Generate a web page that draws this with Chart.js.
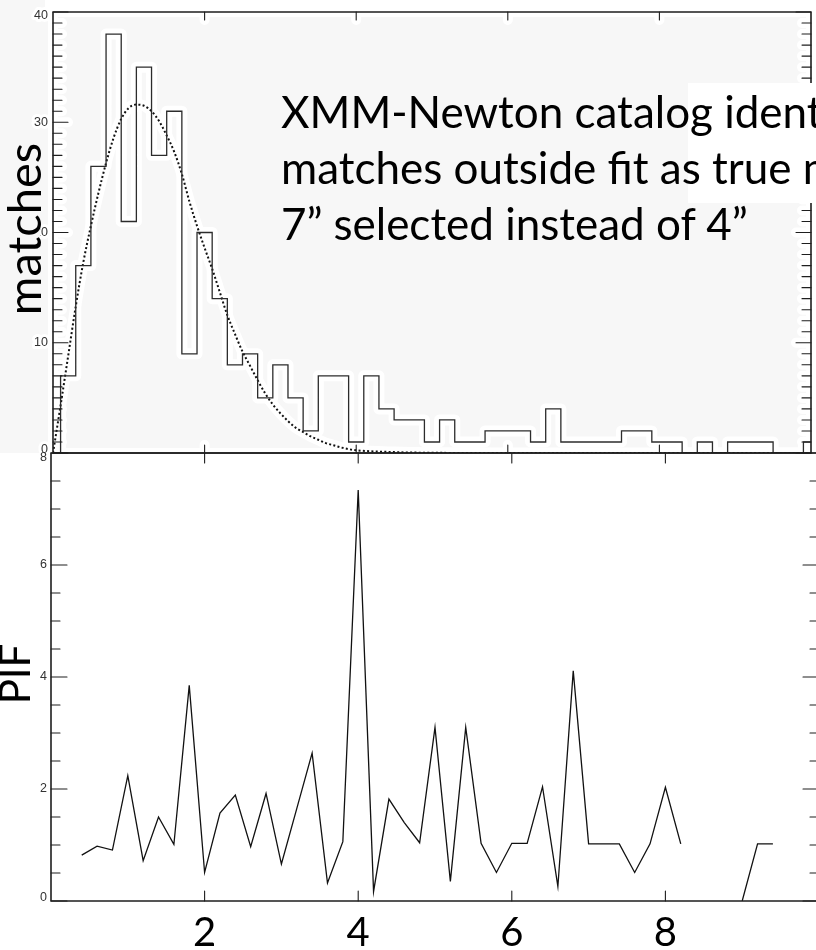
<!DOCTYPE html>
<html>
<head>
<meta charset="utf-8">
<script src="https://cdn.jsdelivr.net/npm/chart.js@4.4.1/dist/chart.umd.min.js"></script>
<style>
  html, body { margin: 0; padding: 0; background: #fff; overflow: hidden; }
  #page { position: relative; width: 816px; height: 950px; overflow: hidden; }
  #histChart { position: absolute; left: 0; top: 0; }
  #pifChart { position: absolute; left: 0; top: 440px; }
  #noteBox { position: absolute; left: 688px; top: 83px; width: 128px; height: 120px; background: #fff; }
  #note {
    position: absolute; left: 281px; top: 83px;
    font: 44px Lato, "Open Sans", sans-serif; line-height: 56px;
    color: #000; white-space: nowrap;
  }
</style>
</head>
<body>
<div id="page">
  <canvas id="histChart" width="816" height="470"></canvas>
  <canvas id="pifChart" width="830" height="510"></canvas>
  <div id="noteBox"></div>
  <div id="note">XMM-Newton catalog identifies<br>matches outside fit as true matches;<br>7” selected instead of 4”</div>
</div>
<script>
// separation histogram, one count per 0.2 bin starting at 0.0
const histCounts = [0, 7, 17, 26, 38, 21, 35, 27, 31, 9, 20, 14, 8, 9, 5, 8, 5, 2, 7, 7,
  1, 7, 4, 3, 3, 1, 3, 1, 1, 2, 2, 2, 1, 4, 1, 1, 1, 1, 2, 2,
  1, 1, 0, 1, 0, 1, 1, 1, 0, 0, 1];
const binCenters = histCounts.map((_, i) => +(i * 0.2).toFixed(1));

// fitted distribution (dotted)
const fitX = [0, 0.1, 0.2, 0.3, 0.4, 0.5, 0.6, 0.7, 0.8, 0.9, 1.0, 1.1, 1.2, 1.3, 1.4, 1.5, 1.6, 1.7, 1.8, 1.9,
  2.0, 2.1, 2.2, 2.3, 2.4, 2.5, 2.6, 2.7, 2.8, 2.9, 3.0, 3.1, 3.2, 3.3, 3.4, 3.5, 3.6, 3.7, 3.8, 3.9,
  4.0, 4.5, 5, 6, 7, 8, 9, 10];
const fitY = [0, 4.3, 8.8, 13.3, 17.3, 20.6, 23.6, 26.3, 28.6, 30.3, 31.3, 31.6, 31.5, 31.0, 30.1, 28.8, 27.3, 25.3, 22.8, 20.6,
  18.6, 16.7, 14.6, 12.5, 10.8, 9.2, 7.9, 6.6, 5.4, 4.4, 3.6, 2.9, 2.3, 1.9, 1.5, 1.2, 0.9, 0.7, 0.5, 0.35,
  0.25, 0.08, 0.02, 0, 0, 0, 0, 0];

// PIF per bin, from 0.4 in steps of 0.2 (null = no value)
const pifY = [0.82, 0.98, 0.91, 2.24, 0.72, 1.5, 1.01, 3.85, 0.51, 1.57,
  1.89, 0.97, 1.92, 0.66, 1.65, 2.64, 0.32, 1.06, 7.34, 0.17,
  1.82, 1.40, 1.04, 3.1, 0.35, 3.1, 1.03, 0.51, 1.03, 1.03,
  2.04, 0.26, 4.11, 1.02, 1.02, 1.02, 0.51, 1.02, 2.03, 1.02,
  null, null, null, 0, 1.02, 1.02];
const pifX = pifY.map((_, i) => +(0.4 + i * 0.2).toFixed(1));

const histTicksY = [0, 10, 20, 30, 40];
const histTickLabels = ['0', '10', '20', '30', '40'];
const pifTicksY = [0, 2, 4, 6, 8];
const pifTickLabels = ['0', '2', '4', '6', '8'];
const xTicks = [2, 4, 6, 8];
const xTickLabels = ['2', '4', '6', '8'];

const GRAY = '#f7f7f7';
const INK = '#1e1e1e';

function strokeSegs(ctx, segs, color, width) {
    ctx.strokeStyle = color;
    ctx.lineWidth = width;
    ctx.lineCap = 'round';
    ctx.beginPath();
    segs.forEach(([x1, y1, x2, y2]) => { ctx.moveTo(x1, y1); ctx.lineTo(x2, y2); });
    ctx.stroke();
}

function frameSegments(chart, o) {
    const { chartArea: a, scales: { x, y } } = chart;
    const ticks = [];
    const steps = Math.round((y.max - y.min) / o.yMinor);
    for (let i = 0; i <= steps; i++) {
        const v = y.min + i * o.yMinor;
        const py = y.getPixelForValue(v);
        const len = o.yMajor.some((m) => Math.abs(m - v) < 1e-6) ? o.majorLen : o.minorLen;
        ticks.push([a.left, py, a.left + len, py]);
        ticks.push([a.right, py, a.right - len, py]);
    }
    o.xMajor.forEach((v) => {
        const px = x.getPixelForValue(v);
        ticks.push([px, a.top, px, a.top + o.xTopLen]);
        ticks.push([px, a.bottom, px, a.bottom - o.xBottomLen]);
    });
    const box = [
        [a.left, a.top, a.right, a.top], [a.right, a.top, a.right, a.bottom],
        [a.right, a.bottom, a.left, a.bottom], [a.left, a.bottom, a.left, a.top],
    ];
    return { ticks, box };
}

const panelFrame = {
    id: 'panelFrame',
    beforeDraw(chart, args, o) {
        if (!o.fills) return;
        const ctx = chart.ctx;
        ctx.save();
        o.fills.forEach(([color, rect]) => {
            ctx.fillStyle = color;
            ctx.fillRect(...rect);
        });
        ctx.restore();
    },
    beforeDatasetsDraw(chart, args, o) {
        if (!o.halo) return;
        const { ticks, box } = frameSegments(chart, o);
        const ctx = chart.ctx;
        ctx.save();
        strokeSegs(ctx, ticks.concat(box), o.halo, 10);
        ctx.restore();
    },
    afterDatasetsDraw(chart, args, o) {
        const { ctx, chartArea: a, scales: { x, y } } = chart;
        const { ticks, box } = frameSegments(chart, o);
        ctx.save();
        strokeSegs(ctx, box, INK, 1.6);
        strokeSegs(ctx, ticks, INK, 1.1);

        // small y tick labels, kept inside the frame at the ends
        ctx.font = o.tickFont;
        ctx.textAlign = 'right';
        ctx.textBaseline = 'middle';
        ctx.lineJoin = 'round';
        o.yMajor.forEach((v, i) => {
            const py = Math.min(Math.max(y.getPixelForValue(v), a.top + o.clampTop), a.bottom - o.clampBottom);
            if (o.halo) {
                ctx.strokeStyle = o.halo;
                ctx.lineWidth = 6;
                ctx.strokeText(o.yLabels[i], o.labelX, py);
            }
            ctx.fillStyle = '#333';
            ctx.fillText(o.yLabels[i], o.labelX, py);
        });

        // big x tick labels
        if (o.xLabels) {
            ctx.font = o.xFont;
            ctx.textAlign = 'center';
            ctx.textBaseline = 'alphabetic';
            ctx.fillStyle = '#000';
            o.xMajor.forEach((v, i) => {
                ctx.fillText(o.xLabels[i], x.getPixelForValue(v), o.xLabelY);
            });
        }

        // rotated axis title
        const t = o.title;
        if (t.cover) {
            ctx.fillStyle = t.cover.color;
            ctx.fillRect(...t.cover.rect);
        }
        ctx.translate(t.x, t.y);
        ctx.rotate(-Math.PI / 2);
        ctx.font = t.font;
        ctx.textAlign = 'center';
        ctx.textBaseline = 'alphabetic';
        ctx.fillStyle = '#000';
        ctx.fillText(t.text, 0, 0);
        ctx.restore();
    },
};

const baseOptions = {
    responsive: false,
    animation: false,
    devicePixelRatio: 1,
    events: [],
    elements: { point: { radius: 0 }, line: { tension: 0 } },
};

function buildHist() {
    const histPoints = binCenters.map((x, i) => ({ x, y: histCounts[i] }));
    const fitPoints = fitX.map((x, i) => ({ x, y: fitY[i] }));
    new Chart(document.getElementById('histChart'), {
        type: 'line',
        data: {
            datasets: [
                { data: histPoints, stepped: 'middle', borderColor: '#2c2c2c', borderWidth: 1.3, order: 1 },
                { data: fitPoints, cubicInterpolationMode: 'monotone', borderColor: '#111', borderWidth: 2,
                  borderDash: [2, 2.3], order: 1 },
                { data: histPoints, stepped: 'middle', borderColor: '#fff', borderWidth: 11,
                  borderJoinStyle: 'round', borderCapStyle: 'round', order: 2 },
                { data: fitPoints, cubicInterpolationMode: 'monotone', borderColor: '#fff', borderWidth: 11,
                  borderJoinStyle: 'round', borderCapStyle: 'round', order: 2 },
            ],
        },
        options: {
            ...baseOptions,
            layout: { padding: { left: 53, right: 5, top: 12, bottom: 17 } },
            scales: {
                x: { type: 'linear', min: 0, max: 10, display: false },
                y: { type: 'linear', min: 0, max: 40, display: false },
            },
            plugins: {
                legend: { display: false },
                tooltip: { enabled: false },
                panelFrame: {
                    fills: [[GRAY, [0, 0, 816, 453]], ['#fff', [45, 0, 771, 12]]], halo: '#fff',
                    yMajor: histTicksY, yLabels: histTickLabels, yMinor: 1,
                    majorLen: 15, minorLen: 9, xMajor: xTicks, xTopLen: 8, xBottomLen: 8,
                    tickFont: '12.5px "Liberation Sans", Arial, sans-serif', labelX: 48, clampTop: 4, clampBottom: 3,
                    title: { text: 'matches', x: 41, y: 229, font: '47px Lato, sans-serif',
                             cover: { color: GRAY, rect: [0, 140, 40, 176] } },
                },
            },
        },
        plugins: [panelFrame],
    });
}

function buildPif() {
    const pifPoints = pifX.map((x, i) => ({ x, y: pifY[i] }));
    new Chart(document.getElementById('pifChart'), {
        type: 'line',
        data: {
            datasets: [
                { data: pifPoints, borderColor: '#111', borderWidth: 1.3, spanGaps: false },
            ],
        },
        options: {
            ...baseOptions,
            layout: { padding: { left: 51, right: 11, top: 13, bottom: 49 } },
            scales: {
                x: { type: 'linear', min: 0, max: 10, display: false },
                y: { type: 'linear', min: 0, max: 8, display: false },
            },
            plugins: {
                legend: { display: false },
                tooltip: { enabled: false },
                panelFrame: {
                    yMajor: pifTicksY, yLabels: pifTickLabels, yMinor: 0.5,
                    majorLen: 16, minorLen: 9, xMajor: xTicks, xTopLen: 10, xBottomLen: 10,
                    tickFont: '12.5px "Liberation Sans", Arial, sans-serif', labelX: 47, clampTop: 5, clampBottom: 3,
                    xLabels: xTickLabels, xFont: '40px Lato, sans-serif', xLabelY: 506,
                    title: { text: 'PIF', x: 30, y: 234, font: '42px Lato, sans-serif' },
                },
            },
        },
        plugins: [panelFrame],
    });
}

document.fonts.load('44px Lato').finally(() => {
    buildHist();
    buildPif();
});
</script>
</body>
</html>
